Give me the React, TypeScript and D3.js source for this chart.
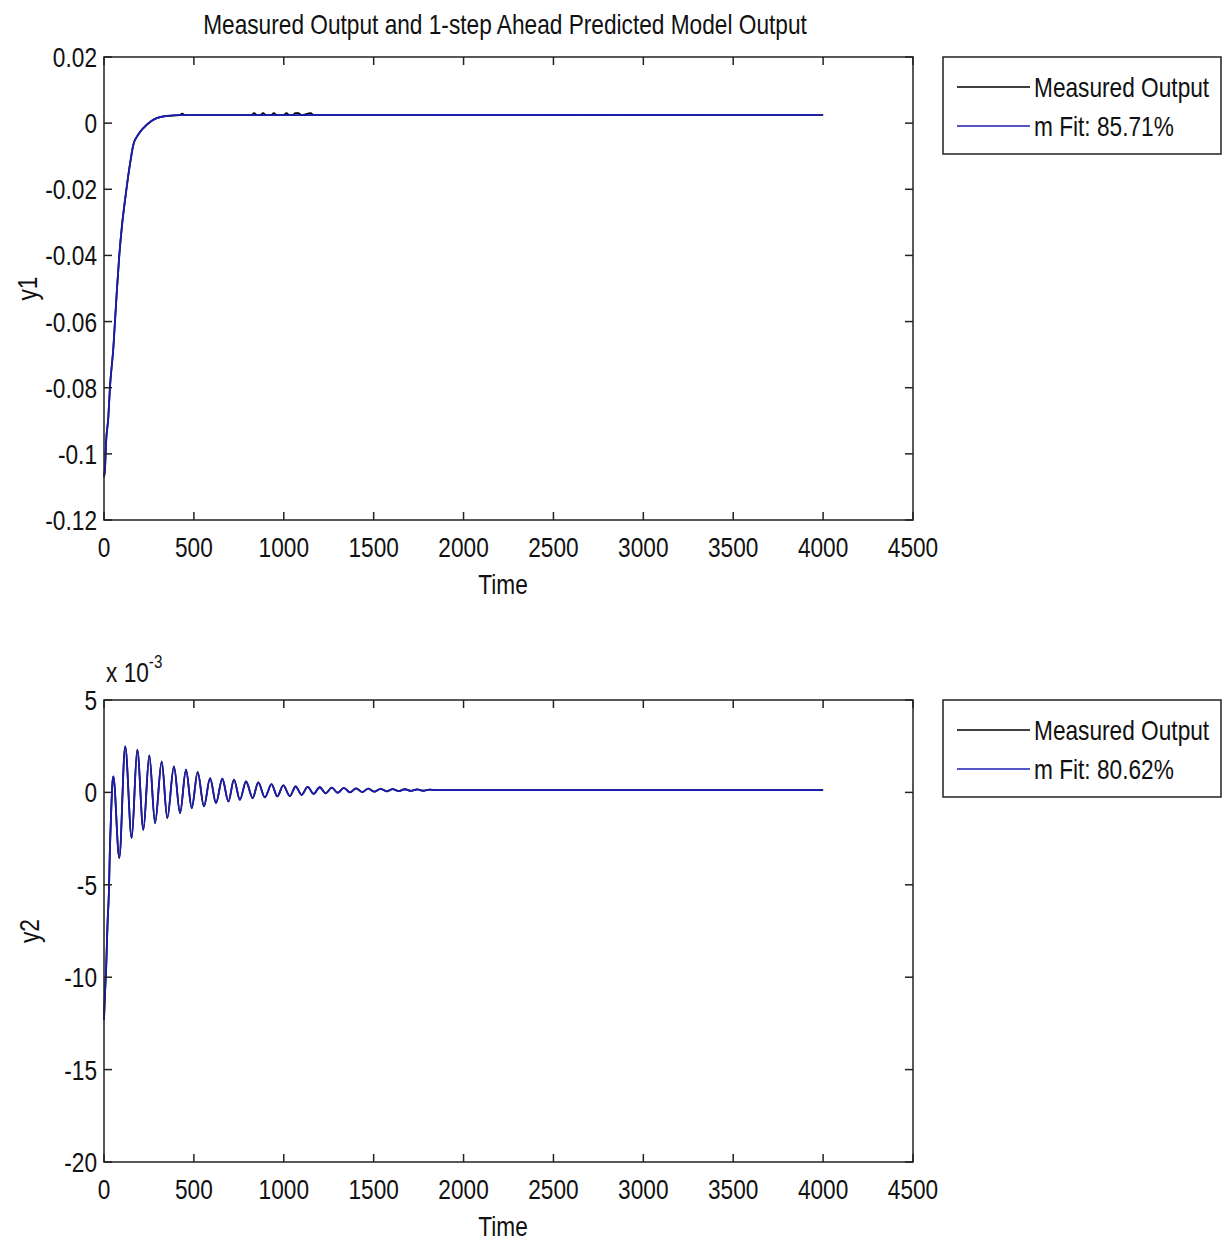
import React from 'react';
import * as d3 from 'd3';

// shared axis ticks
const timeTicks = [0, 500, 1000, 1500, 2000, 2500, 3000, 3500, 4000, 4500];
const y1Ticks = [-0.12, -0.1, -0.08, -0.06, -0.04, -0.02, 0, 0.02];
const y2Ticks = [-20, -15, -10, -5, 0, 5]; // in units of 1e-3

// y1 : model fit (blue) and measured (black)
const y1Time = [0, 6, 11, 24, 33, 52, 70, 85, 100, 120, 140, 163, 190, 219, 260, 293, 349, 400, 4000];
const y1Fit = [-0.107, -0.104, -0.097, -0.089, -0.08, -0.068, -0.052, -0.04, -0.031, -0.022, -0.014, -0.0066, -0.0035, -0.0015, 0.0005, 0.0015, 0.0022, 0.0024, 0.0025];
const y1MeasTime = [0, 6, 11, 24, 33, 52, 70, 85, 100, 120, 140, 163, 190, 219, 260, 293, 349, 420, 435, 450, 820, 835, 850, 870, 885, 900, 930, 945, 960, 1000, 1015, 1030, 1050, 1065, 1080, 1100, 1150, 1165, 4000];
const y1Meas = [-0.107, -0.104, -0.097, -0.089, -0.08, -0.068, -0.052, -0.04, -0.031, -0.022, -0.014, -0.0066, -0.0035, -0.0015, 0.0005, 0.0015, 0.0022, 0.0024, 0.0029, 0.0024, 0.0024, 0.003, 0.0024, 0.0024, 0.003, 0.0024, 0.0024, 0.003, 0.0024, 0.0024, 0.003, 0.0024, 0.0024, 0.003, 0.003, 0.0024, 0.003, 0.0024, 0.0025];

// y2 (x 1e-3): model fit (blue); measured sits underneath it
const y2Time = [0, 5, 12, 20, 27, 33, 40, 47, 52, 85, 118, 154, 185, 219, 252, 284, 321, 352, 389, 423, 456, 488, 521, 556, 590, 623, 658, 692, 723, 756, 790, 827, 858, 895, 932, 964, 997, 1034, 1066, 1099, 1133, 1166, 1200, 1233, 1267, 1300, 1334, 1368, 1402, 1436, 1470, 1504, 1538, 1572, 1606, 1640, 1674, 1708, 1742, 1776, 1810, 1850, 4000];
const y2Fit = [-12.3, -11.0, -9.5, -7.0, -5.5, -3.0, -1.0, 0.5, 0.86, -3.55, 2.49, -2.47, 2.31, -2.02, 2.0, -1.66, 1.68, -1.39, 1.41, -1.12, 1.23, -0.85, 1.1, -0.76, 0.77, -0.58, 0.74, -0.49, 0.69, -0.4, 0.59, -0.31, 0.54, -0.27, 0.45, -0.22, 0.38, -0.2, 0.32, -0.13, 0.3, -0.08, 0.28, -0.05, 0.26, -0.02, 0.24, 0.0, 0.22, 0.02, 0.2, 0.04, 0.19, 0.06, 0.18, 0.07, 0.17, 0.08, 0.16, 0.09, 0.15, 0.12, 0.12];
const y2Meas = y2Fit;

const legend1 = ['Measured Output', 'm Fit: 85.71%'];
const legend2 = ['Measured Output', 'm Fit: 80.62%'];

const FONT = '"Liberation Sans", Arial, sans-serif';
const BLUE = '#1c1cb4';
const X0 = 104, X1 = 913;
const SQ = 0.84; // horizontal squeeze, no narrow font installed

// narrow-looking text: squeeze horizontally around its anchor point
function T({ x, y, anchor = 'start', size = 27, rot = 0, children }: any) {
  return (
    <g transform={`translate(${x},${y}) rotate(${rot}) scale(${SQ},1)`}>
      <text x={0} y={0} textAnchor={anchor} fontSize={size}>{children}</text>
    </g>
  );
}

function Panel({ top, bottom, yDomain, yTicks, yLabel, yLabelX, time, fit, mTime, meas, legend, expLabel }: any) {
  const x = d3.scaleLinear().domain([0, 4500]).range([X0, X1]);
  const y = d3.scaleLinear().domain(yDomain).range([bottom, top]);
  const line = d3.line<number>().x((_, i) => x(time[i])).y(d => y(d)).curve(d3.curveMonotoneX);
  const mline = d3.line<number>().x((_, i) => x(mTime[i])).y(d => y(d)).curve(d3.curveMonotoneX);
  const tl = 8;
  const midY = (top + bottom) / 2;
  return (
    <g>
      <path d={mline(meas) || ''} fill="none" stroke="#000" strokeWidth={1.8} />
      <path d={line(fit) || ''} fill="none" stroke={BLUE} strokeWidth={1.8} />
      <rect x={X0} y={top} width={X1 - X0} height={bottom - top} fill="none" stroke="#222" strokeWidth={1.5} />
      {timeTicks.map(t => (
        <g key={'x' + t}>
          <line x1={x(t)} x2={x(t)} y1={bottom} y2={bottom - tl} stroke="#222" strokeWidth={1.5} />
          <line x1={x(t)} x2={x(t)} y1={top} y2={top + tl} stroke="#222" strokeWidth={1.5} />
          <T x={x(t)} y={bottom + 37} anchor="middle">{t}</T>
        </g>
      ))}
      {yTicks.map((v: number) => (
        <g key={'y' + v}>
          <line x1={X0} x2={X0 + tl} y1={y(v)} y2={y(v)} stroke="#222" strokeWidth={1.5} />
          <line x1={X1} x2={X1 - tl} y1={y(v)} y2={y(v)} stroke="#222" strokeWidth={1.5} />
          <T x={97} y={y(v) + 10} anchor="end">{String(v)}</T>
        </g>
      ))}
      <T x={503} y={bottom + 74} anchor="middle">Time</T>
      <T x={yLabelX} y={midY} anchor="middle" rot={-90}>{yLabel}</T>
      {expLabel && (
        <T x={106} y={top - 18}>
          x 10<tspan fontSize={18} dy={-14}>-3</tspan>
        </T>
      )}
      <rect x={943} y={top} width={278} height={97} fill="#fff" stroke="#222" strokeWidth={1.5} />
      {legend.map((s: string, i: number) => (
        <g key={s}>
          <line x1={957} x2={1030} y1={top + 30 + i * 39} y2={top + 30 + i * 39} stroke={i === 0 ? '#000' : BLUE} strokeWidth={1.6} />
          <T x={1034} y={top + 40 + i * 39}>{s}</T>
        </g>
      ))}
    </g>
  );
}

export default function App() {
  return (
    <svg width={1227} height={1241} style={{ position: 'absolute', left: 0, top: 0, background: '#fff' }} fontFamily={FONT} fill="#111">
      <rect width={1227} height={1241} fill="#fff" />
      <T x={505} y={34} anchor="middle">Measured Output and 1-step Ahead Predicted Model Output</T>
      <Panel top={57} bottom={520} yDomain={[-0.12, 0.02]} yTicks={y1Ticks} yLabel="y1" yLabelX={37}
        time={y1Time} fit={y1Fit} mTime={y1MeasTime} meas={y1Meas} legend={legend1} />
      <Panel top={700} bottom={1162} yDomain={[-20, 5]} yTicks={y2Ticks} yLabel="y2" yLabelX={39}
        time={y2Time} fit={y2Fit} mTime={y2Time} meas={y2Meas} legend={legend2} expLabel />
    </svg>
  );
}
